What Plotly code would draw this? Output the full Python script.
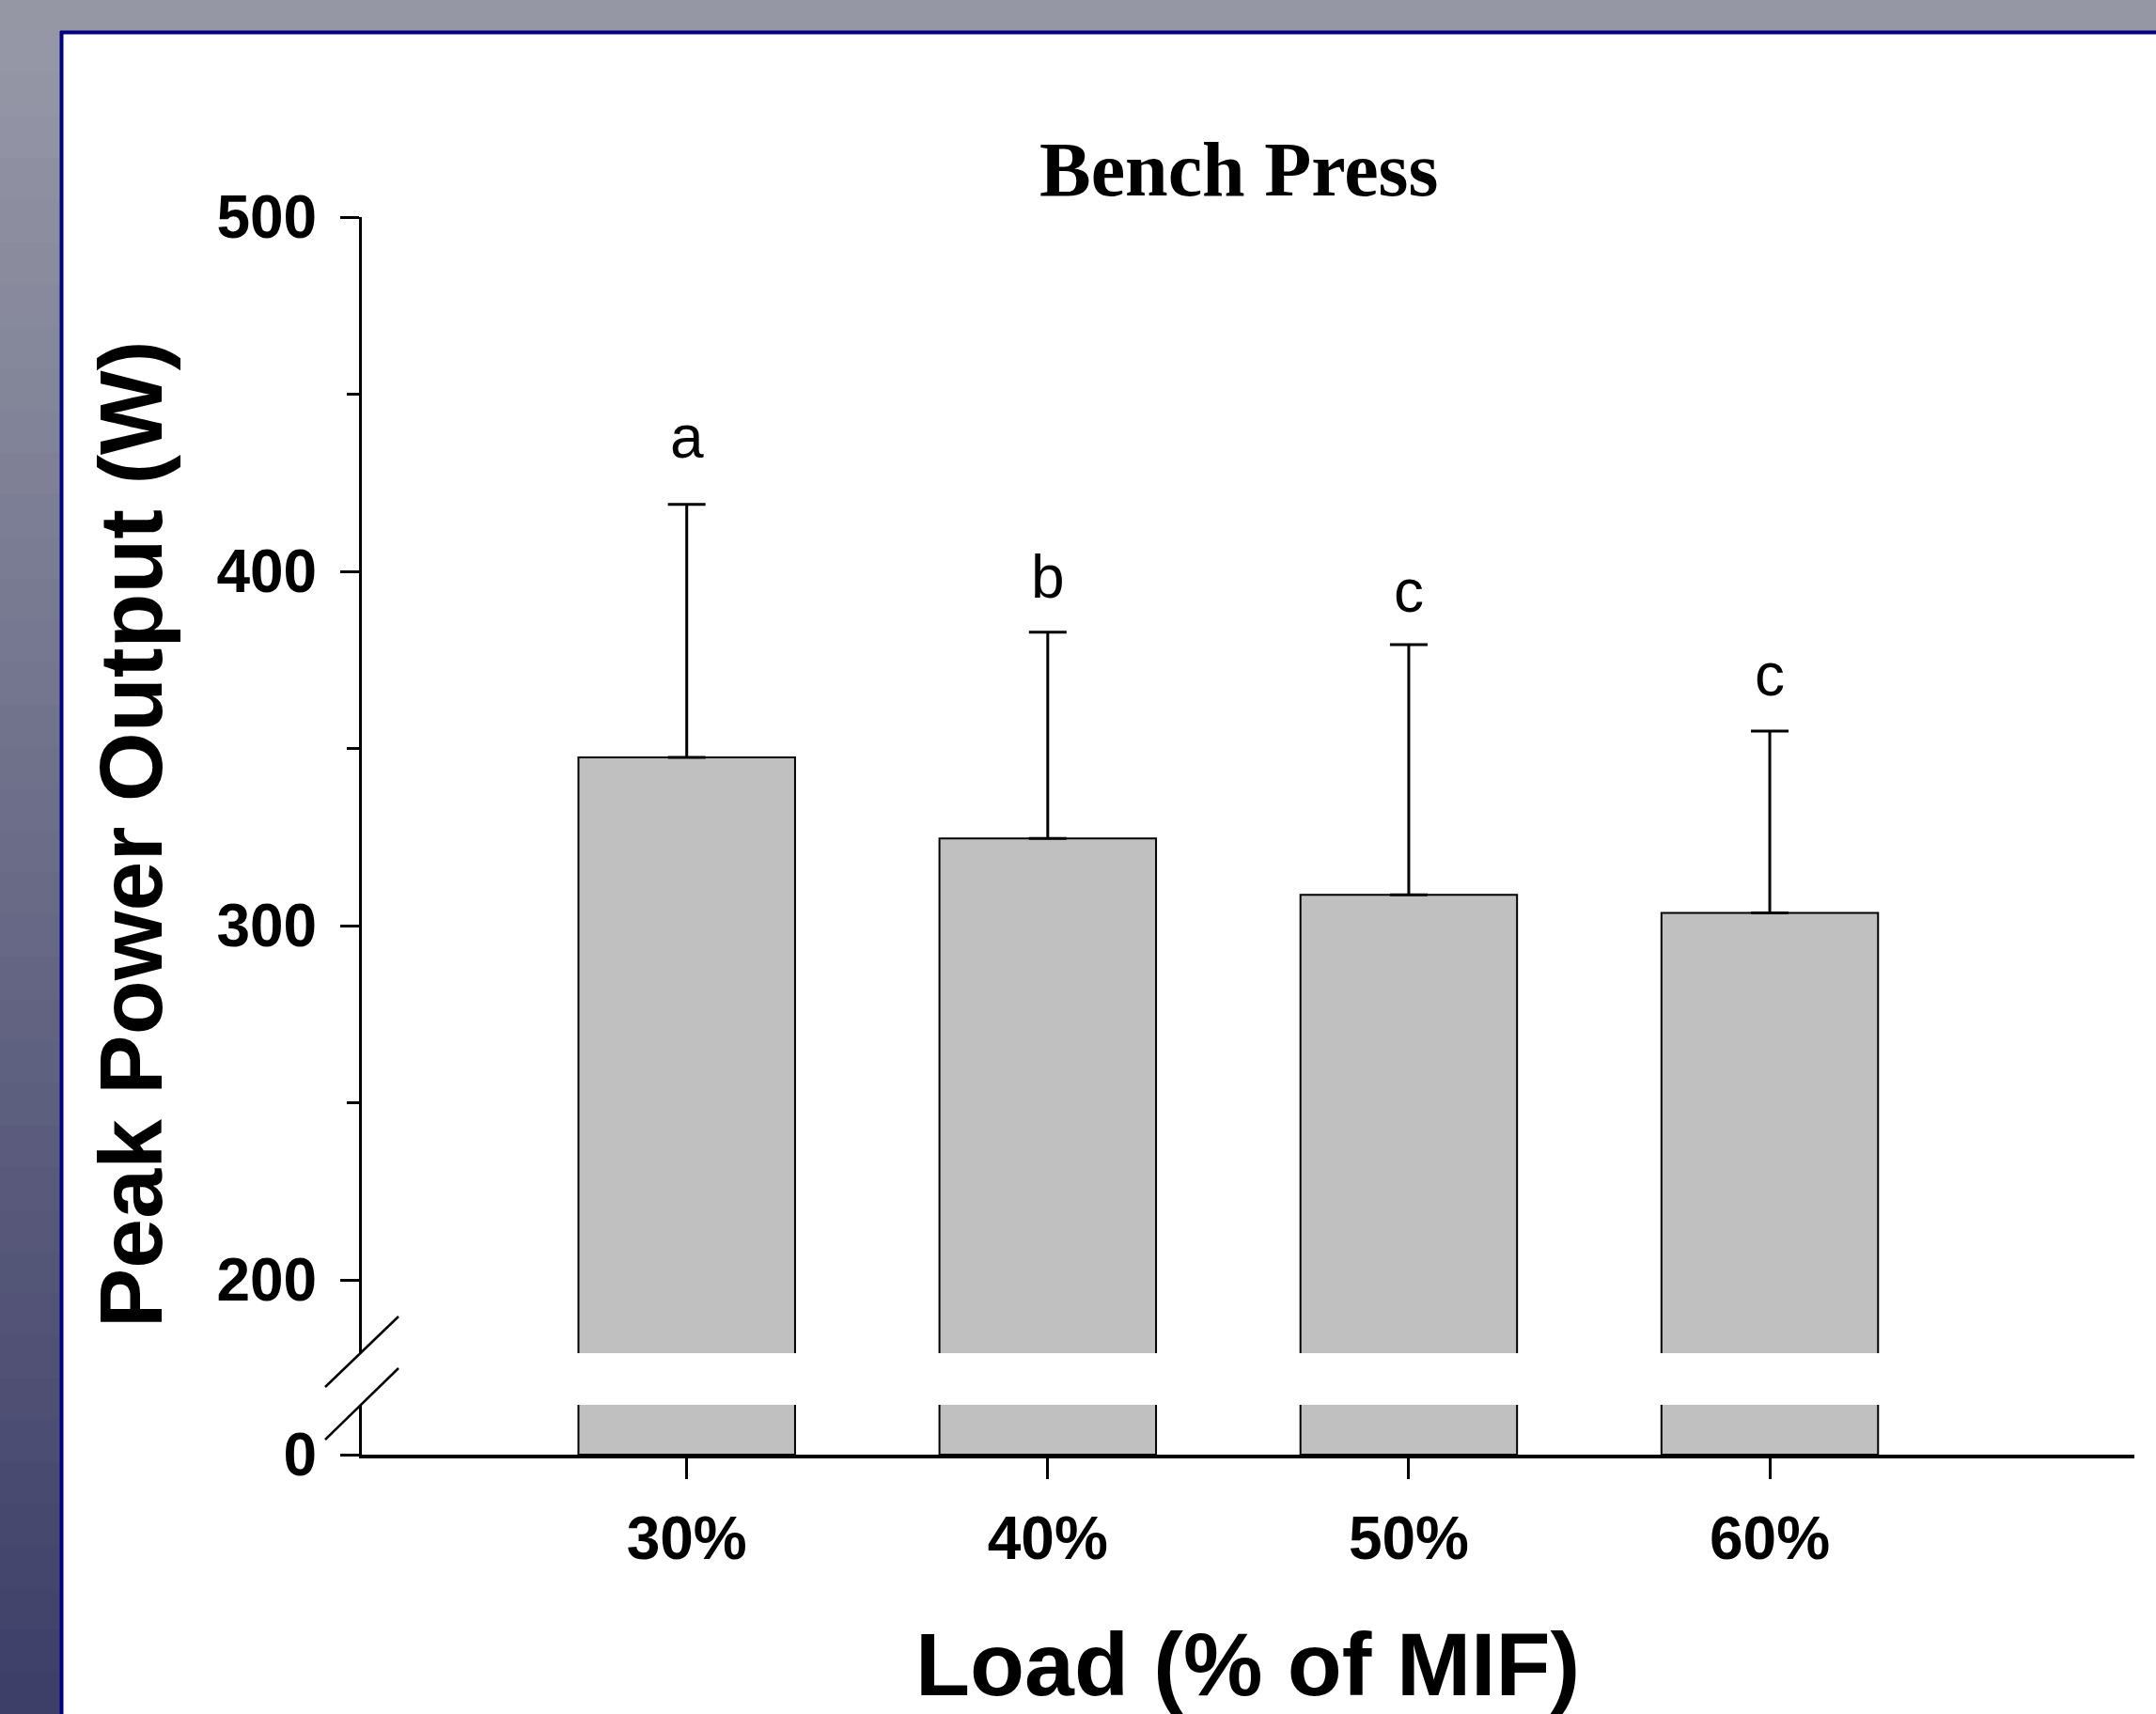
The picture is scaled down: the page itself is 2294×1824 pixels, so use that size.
import plotly.graph_objects as go

# ---- data ----
loads = ["30%", "40%", "50%", "60%"]
peak_power = [347.5, 324.6, 308.7, 303.6]
peak_power_sd = [71.4, 58.2, 70.6, 51.3]
sig_letters = ["a", "b", "c", "c"]
letter_y = [431.8, 392.3, 388.2, 364.6]
y_tick_vals = [200, 300, 400, 500]

W, H = 2294, 1824
L, R, T, B = 385, 23, 231, 276
PW, PH = W - L - R, H - T - B


def px(xp):
    return (xp - L) / PW


def py(yp):
    return (H - B - yp) / PH


fig = go.Figure()

bar_style = dict(marker=dict(color="#c0c0c0", line=dict(color="black", width=2)),
                 hoverinfo="x+y", showlegend=False)

# bottom (broken) panel
fig.add_trace(go.Bar(x=loads, y=peak_power, xaxis="x", yaxis="y", **bar_style))
# top panel
fig.add_trace(go.Bar(x=loads, y=peak_power, xaxis="x", yaxis="y2",
                     error_y=dict(type="data", array=peak_power_sd, arrayminus=[0] * len(loads),
                                  symmetric=False, color="black", thickness=3, width=20),
                     **bar_style))

tickfont = dict(family="Liberation Sans, Arial, sans-serif", size=64, color="black", weight="bold")

fig.update_layout(
    width=W, height=H,
    margin=dict(l=L, r=R, t=T, b=B, pad=0),
    paper_bgcolor="white", plot_bgcolor="rgba(0,0,0,0)",
    bargap=0.4,
    xaxis=dict(anchor="y", range=[-0.9, 4.01], showline=True, linecolor="black", linewidth=4,
               ticks="outside", ticklen=22, tickwidth=3, tickcolor="black",
               tickfont=tickfont, ticklabelstandoff=8, showgrid=False, zeroline=False),
    yaxis=dict(domain=[0, 53 / PH], range=[0, 53 / 377 * 100], anchor="x",
               showline=True, linecolor="black", linewidth=3,
               tickvals=[0], ticktext=["0"], ticks="outside", ticklen=20, tickwidth=3,
               tickcolor="black", tickfont=tickfont, ticklabelstandoff=12,
               showgrid=False, zeroline=False),
    yaxis2=dict(domain=[(H - B - 1440) / PH, 1], range=[500 - (1440 - T) / 377 * 100, 500],
                anchor="x", showline=True, linecolor="black", linewidth=3,
                tickvals=y_tick_vals, ticks="outside", ticklen=20, tickwidth=3,
                tickcolor="black", tickfont=tickfont, ticklabelstandoff=12,
                minor=dict(ticks="outside", ticklen=13, tickwidth=3, tickcolor="black",
                           dtick=50, tick0=0),
                showgrid=False, zeroline=False),
)

annotations = []
for cat, lab, ly in zip(loads, sig_letters, letter_y):
    annotations.append(dict(x=cat, y=ly, xref="x", yref="y2", text=lab, showarrow=False,
                            yanchor="bottom", yshift=-15,
                            font=dict(family="Liberation Sans, Arial, sans-serif", size=64,
                                      color="black")))
annotations.append(dict(x=px(1318), y=py(181), xref="paper", yref="paper", text="<b>Bench Press</b>",
                        showarrow=False, xanchor="center", yanchor="middle",
                        font=dict(family="Liberation Serif, Times New Roman, serif", size=82,
                                  color="black")))
annotations.append(dict(x=px(1327), y=py(1771), xref="paper", yref="paper",
                        text="<b>Load (% of MIF)</b>", showarrow=False,
                        xanchor="center", yanchor="middle",
                        font=dict(family="Liberation Sans, Arial, sans-serif", size=95,
                                  color="black")))
annotations.append(dict(x=px(139), y=py(888), xref="paper", yref="paper",
                        text="<b>Peak Power Output (W)</b>", showarrow=False, textangle=-90,
                        xanchor="center", yanchor="middle",
                        font=dict(family="Liberation Sans, Arial, sans-serif", size=95,
                                  color="black")))
fig.update_layout(annotations=annotations)

shapes = []
# frame background: top band
shapes.append(dict(type="rect", xref="paper", yref="paper", x0=px(0), x1=px(W), y0=py(0), y1=py(34),
                   fillcolor="#9597a5", line=dict(width=0), layer="below"))
# left band gradient
top_c = (0x95, 0x97, 0xa6)
bot_c = (0x3e, 0x3f, 0x68)
n = 40
for i in range(n):
    t = i / (n - 1)
    c = tuple(int(round(top_c[k] + (bot_c[k] - top_c[k]) * t)) for k in range(3))
    y0p = 34 + (H - 34) * i / n
    y1p = 34 + (H - 34) * (i + 1) / n + 1
    shapes.append(dict(type="rect", xref="paper", yref="paper", x0=px(0), x1=px(65),
                       y0=py(y0p), y1=py(y1p), fillcolor="rgb(%d,%d,%d)" % c,
                       line=dict(width=0), layer="below"))
# navy border
shapes.append(dict(type="line", xref="paper", yref="paper", x0=px(64), x1=px(W), y0=py(34.5), y1=py(34.5),
                   line=dict(color="#000080", width=4), layer="below"))
shapes.append(dict(type="line", xref="paper", yref="paper", x0=px(65.5), x1=px(65.5), y0=py(33), y1=py(H),
                   line=dict(color="#000080", width=4), layer="below"))
# axis break slashes
shapes.append(dict(type="line", xref="paper", yref="paper", x0=px(346), y0=py(1476), x1=px(424), y1=py(1401),
                   line=dict(color="black", width=2.5)))
shapes.append(dict(type="line", xref="paper", yref="paper", x0=px(346), y0=py(1532), x1=px(424), y1=py(1456),
                   line=dict(color="black", width=2.5)))
fig.update_layout(shapes=shapes)

fig.write_html("out.html", config={"displayModeBar": False},
               post_script="document.body.style.margin='0';document.body.style.overflow='hidden';")
